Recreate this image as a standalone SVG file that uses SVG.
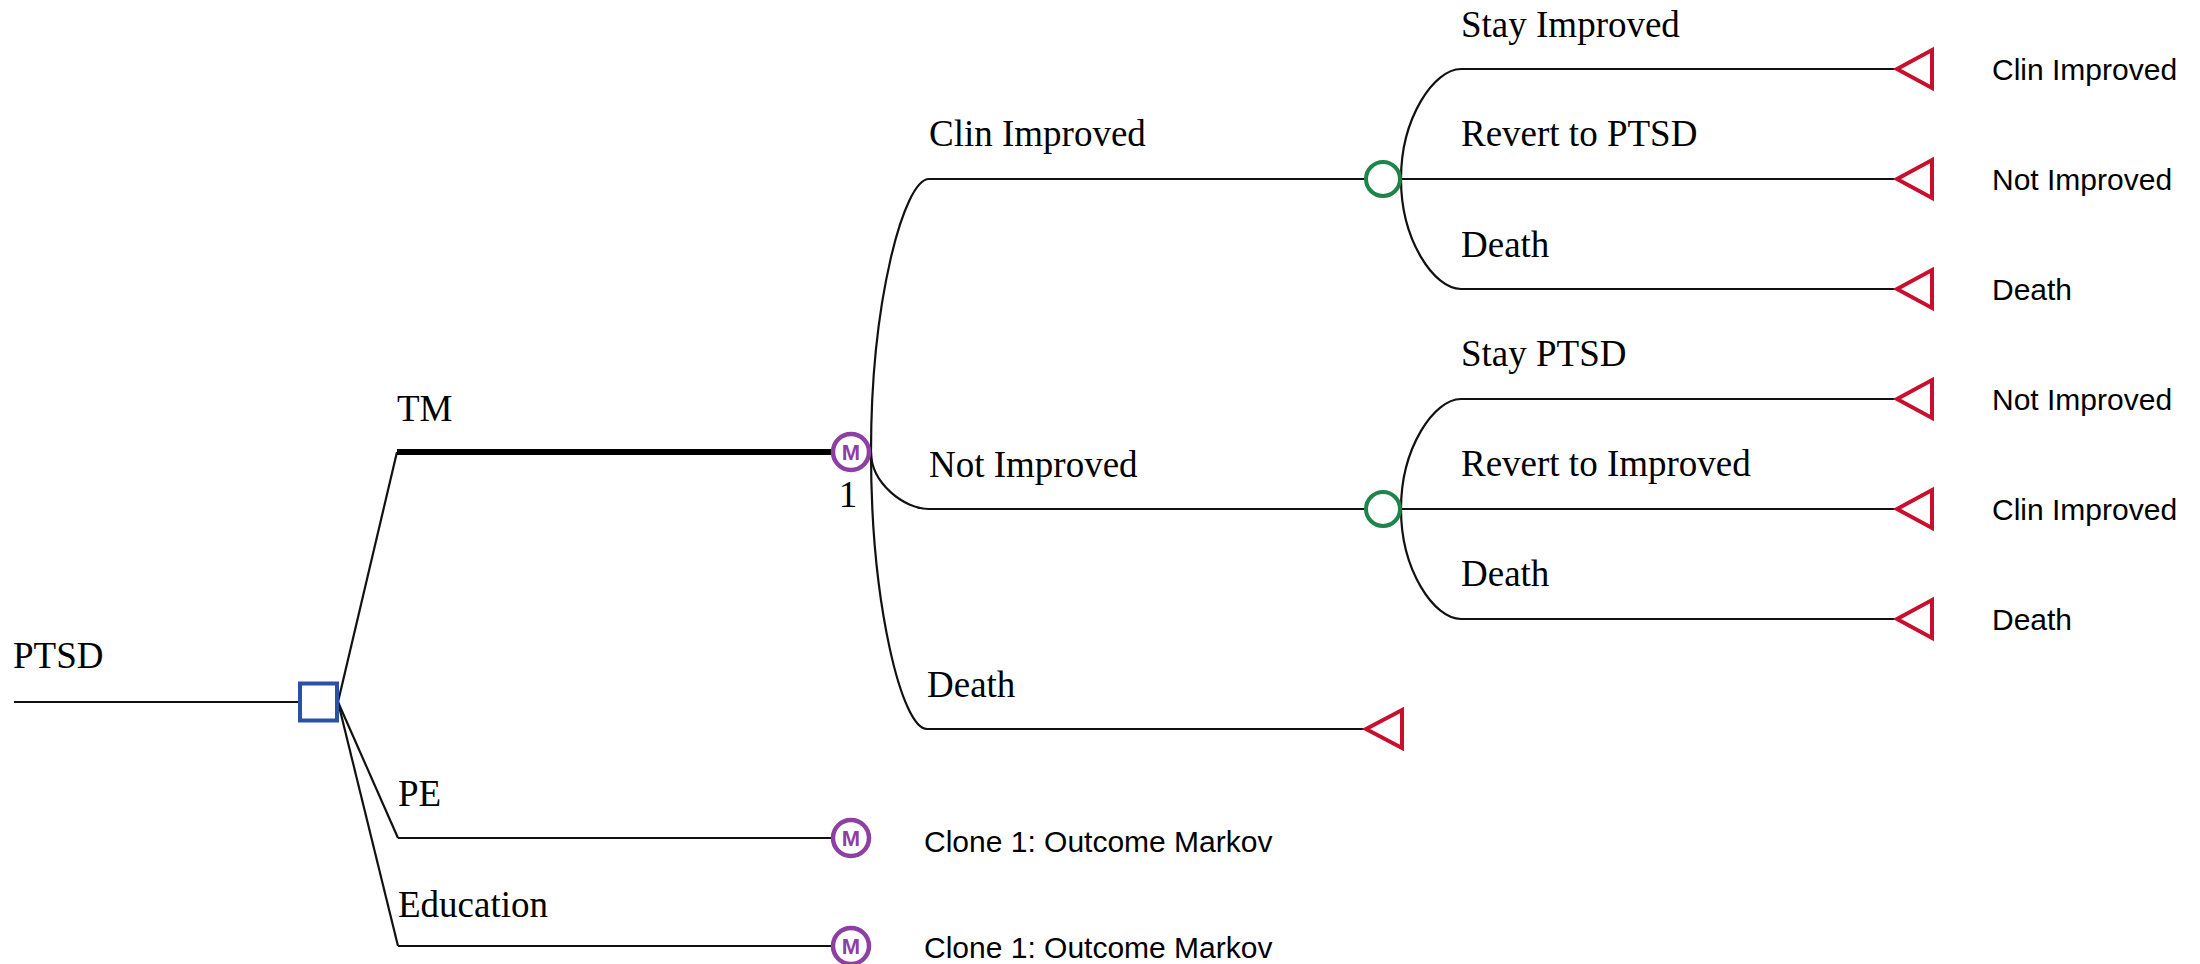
<svg xmlns="http://www.w3.org/2000/svg" width="2200" height="964" viewBox="0 0 2200 964">
<style>
.ln{fill:none;stroke:#111;stroke-width:2.2}
.thick{fill:none;stroke:#000;stroke-width:6}
.lbl{font-family:"Liberation Serif","Times New Roman",serif;font-size:37px;fill:#000}
.term{font-family:"Liberation Sans",Arial,sans-serif;font-size:30px;fill:#000}
.dec{fill:#fff;stroke:#2B50A8;stroke-width:4}
.chance{fill:#fff;stroke:#1E8449;stroke-width:4}
.mk{fill:#fff;stroke:#8E3FA3;stroke-width:4.5}
.mkt{font-family:"Liberation Sans",Arial,sans-serif;font-size:22px;font-weight:bold;fill:#8E3FA3;text-anchor:middle}
.tri{fill:#fff;stroke:#C8102E;stroke-width:4;stroke-linejoin:miter}
</style>
<rect width="2200" height="964" fill="#fff"/>
<g id="connectors">
<line class="ln" x1="14" y1="702" x2="300" y2="702"/>
<line class="ln" x1="338" y1="702" x2="397" y2="452"/>
<line class="ln" x1="338" y1="702" x2="398" y2="838"/>
<line class="ln" x1="338" y1="702" x2="398" y2="946"/>
<line class="thick" x1="397" y1="452" x2="833" y2="452"/>
<line class="ln" x1="398" y1="838" x2="832" y2="838"/>
<line class="ln" x1="398" y1="946" x2="832" y2="946"/>
<path class="ln" d="M871 452 C871 301 904 179 929 179"/>
<path class="ln" d="M871 452 C871 483 904 509 929 509"/>
<path class="ln" d="M871 452 C871 605 902 729 927 729"/>
<line class="ln" x1="929" y1="179" x2="1366" y2="179"/>
<line class="ln" x1="929" y1="509" x2="1366" y2="509"/>
<line class="ln" x1="927" y1="729" x2="1365" y2="729"/>
<path class="ln" d="M1401 179 C1401 118 1434 69 1461 69"/>
<path class="ln" d="M1401 179 C1401 240 1434 289 1461 289"/>
<line class="ln" x1="1401" y1="179" x2="1896" y2="179"/>
<line class="ln" x1="1461" y1="69" x2="1896" y2="69"/>
<line class="ln" x1="1461" y1="289" x2="1896" y2="289"/>
<path class="ln" d="M1401 509 C1401 448 1434 399 1461 399"/>
<path class="ln" d="M1401 509 C1401 570 1434 619 1461 619"/>
<line class="ln" x1="1401" y1="509" x2="1896" y2="509"/>
<line class="ln" x1="1461" y1="399" x2="1896" y2="399"/>
<line class="ln" x1="1461" y1="619" x2="1896" y2="619"/>
</g>
<g id="labels">
<text class="lbl" x="13" y="668">PTSD</text>
<text class="lbl" x="397" y="421">TM</text>
<text class="lbl" x="398" y="806">PE</text>
<text class="lbl" x="398" y="917">Education</text>
<text class="lbl" x="929" y="146">Clin Improved</text>
<text class="lbl" x="929" y="477">Not Improved</text>
<text class="lbl" x="927" y="697">Death</text>
<text class="lbl" x="1461" y="37">Stay Improved</text>
<text class="lbl" x="1461" y="146">Revert to PTSD</text>
<text class="lbl" x="1461" y="257">Death</text>
<text class="lbl" x="1461" y="366">Stay PTSD</text>
<text class="lbl" x="1461" y="476">Revert to Improved</text>
<text class="lbl" x="1461" y="586">Death</text>
</g>
<g id="node-root"><rect class="dec" x="300" y="683.5" width="37" height="37"/></g>
<g id="node-tm"><circle class="mk" cx="851" cy="452" r="18"/><text class="mkt" x="851" y="460">M</text><text class="lbl" x="848" y="507" text-anchor="middle">1</text></g>
<g id="node-pe"><circle class="mk" cx="851" cy="838" r="18"/><text class="mkt" x="851" y="846">M</text><text class="term" x="924" y="852">Clone 1: Outcome Markov</text></g>
<g id="node-edu"><circle class="mk" cx="851" cy="946" r="18"/><text class="mkt" x="851" y="954">M</text><text class="term" x="924" y="958">Clone 1: Outcome Markov</text></g>
<g id="node-c1"><circle class="chance" cx="1383" cy="179" r="17"/></g>
<g id="node-c2"><circle class="chance" cx="1383" cy="509" r="17"/></g>
<g id="node-t-death0"><polygon class="tri" points="1366,729 1402,710 1402,748"/></g>
<g id="node-t1"><polygon class="tri" points="1897,69 1932,50 1932,88"/><text class="term" x="1992" y="80">Clin Improved</text></g>
<g id="node-t2"><polygon class="tri" points="1897,179 1932,160 1932,198"/><text class="term" x="1992" y="190">Not Improved</text></g>
<g id="node-t3"><polygon class="tri" points="1897,289 1932,270 1932,308"/><text class="term" x="1992" y="300">Death</text></g>
<g id="node-t4"><polygon class="tri" points="1897,399 1932,380 1932,418"/><text class="term" x="1992" y="410">Not Improved</text></g>
<g id="node-t5"><polygon class="tri" points="1897,509 1932,490 1932,528"/><text class="term" x="1992" y="520">Clin Improved</text></g>
<g id="node-t6"><polygon class="tri" points="1897,619 1932,600 1932,638"/><text class="term" x="1992" y="630">Death</text></g>
</svg>
